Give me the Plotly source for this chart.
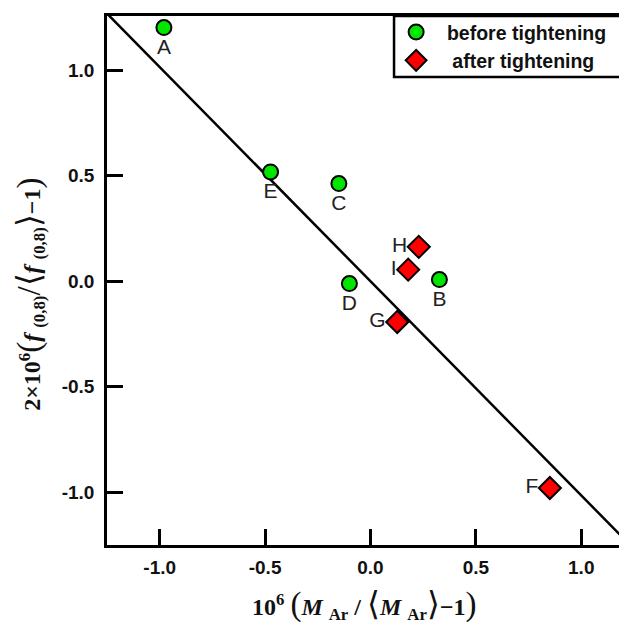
import plotly.graph_objects as go

# data
before_labels = ["A", "B", "C", "D", "E"]
before_x = [-0.98, 0.327, -0.150, -0.100, -0.474]
before_y = [1.202, 0.008, 0.463, -0.011, 0.518]

after_labels = ["F", "G", "H", "I"]
after_x = [0.851, 0.127, 0.229, 0.179]
after_y = [-0.980, -0.193, 0.163, 0.055]

fit_x = [-1.25, 1.25]
fit_slope = -1.015
fit_y = [fit_slope * v for v in fit_x]

xticks = [-1.0, -0.5, 0.0, 0.5, 1.0]
xtick_text = ["-1.0", "-0.5", "0.0", "0.5", "1.0"]
yticks = [-1.0, -0.5, 0.0, 0.5, 1.0]
ytick_text = ["-1.0", "-0.5", "0.0", "0.5", "1.0"]

NB = "\u00a0"
fig = go.Figure()
fig.add_trace(go.Scatter(x=fit_x, y=fit_y, mode="lines",
                         line=dict(color="black", width=2.5),
                         showlegend=False, hoverinfo="skip"))
fig.add_trace(go.Scatter(x=before_x, y=before_y, mode="markers+text",
                         text=before_labels, textposition="bottom center",
                         textfont=dict(family="Arial, Liberation Sans", size=21, color="#222"),
                         marker=dict(symbol="circle", size=15, color="#00e600",
                                     line=dict(color="black", width=2)),
                         name=NB * 2 + "before tightening"))
fig.add_trace(go.Scatter(x=after_x, y=after_y, mode="markers+text",
                         text=after_labels, textposition="middle left",
                         textfont=dict(family="Arial, Liberation Sans", size=21, color="#222"),
                         marker=dict(symbol="diamond", size=17, color="#ff0000",
                                     line=dict(color="black", width=2)),
                         name=NB * 3 + "after tightening"))

tickfont = dict(family="Arial, Liberation Sans", size=19, color="#111", weight="bold")
fig.update_xaxes(range=[-1.25, 1.217], tickvals=xticks, ticktext=xtick_text,
                 ticks="inside", ticklen=16, tickwidth=2.5, tickcolor="black",
                 showline=True, linecolor="black", linewidth=2.5, mirror=True,
                 showgrid=False, zeroline=False, tickfont=tickfont,
                 ticklabelstandoff=3)
fig.update_yaxes(range=[-1.25, 1.257], tickvals=yticks, ticktext=ytick_text,
                 ticks="inside", ticklen=16, tickwidth=2.5, tickcolor="black",
                 showline=True, linecolor="black", linewidth=2.5, mirror=False,
                 showgrid=False, zeroline=False, tickfont=tickfont,
                 ticklabelstandoff=6)

serif = dict(family="Liberation Serif, Times New Roman", size=24, color="#111")
big = '<span style="font-size:33px">%s</span>'
xtitle = ("<b>10<sup>6</sup></b> " + big % "(" + "<b><i>M</i> <sub>Ar</sub> / </b>" + big % "⟨"
          + "<b><i>M</i> <sub>Ar</sub></b>" + big % "⟩" + "<b>−1</b>" + big % ")")
ytitle = ("<b>2×10<sup>6</sup></b>" + big % "(" + "<b><i>f</i> <sub>(0,8)</sub></b>" + big % "/"
          + big % "⟨" + "<b><i>f</i> <sub>(0,8)</sub></b>" + big % "⟩" + "<b>−1</b>" + big % ")")
fig.add_annotation(text=xtitle, xref="paper", yref="paper", x=0.495, y=-0.113,
                   xanchor="center", yanchor="middle", showarrow=False, font=serif)
fig.add_annotation(text=ytitle, xref="paper", yref="paper", x=-0.148, y=0.473,
                   xanchor="center", yanchor="middle", showarrow=False, font=serif,
                   textangle=-90)

# legend frame (extends past the right edge, as in the reference)
fig.add_shape(type="rect", xref="paper", yref="paper", x0=0.552, x1=1.1,
              y0=1 - 61 / 529, y1=1.0, line=dict(color="black", width=2.5),
              fillcolor="rgba(0,0,0,0)", layer="above")

fig.update_layout(
    width=619, height=622,
    margin=dict(l=99, r=0, t=8, b=85),
    plot_bgcolor="white", paper_bgcolor="white",
    legend=dict(x=0.556, y=1.006, xanchor="left", yanchor="top",
                borderwidth=0, bgcolor="rgba(0,0,0,0)",
                font=dict(family="Arial, Liberation Sans", size=19.5, color="#111",
                          weight="bold"),
                itemwidth=30),
)
fig.write_html("out.html")
